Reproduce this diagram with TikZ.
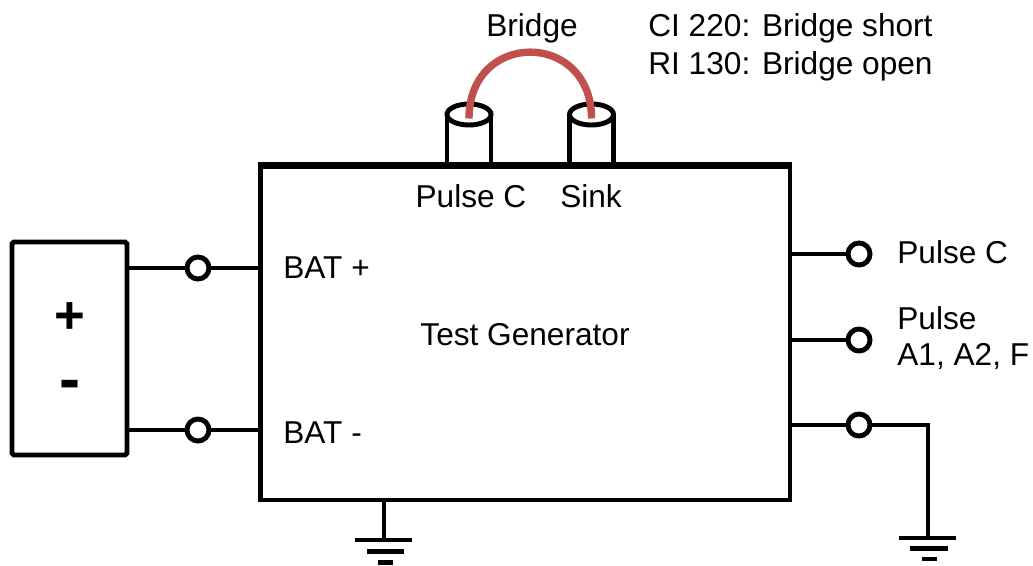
\documentclass[tikz,border=0pt]{standalone}
\usepackage{fontspec}
\setmainfont{Liberation Sans}
\begin{document}
\begin{tikzpicture}[x=0.02cm,y=-0.02cm,
  wire/.style={line width=2.8pt},
  term/.style={circle,draw,line width=2.8pt,fill=white,minimum size=0.44cm,inner sep=0pt},
  lbl/.style={font=\fontsize{18}{21.6}\selectfont,inner sep=0pt},
  bridge/.style={line width=4.2pt,draw={rgb,255:red,192;green,80;blue,77},line cap=butt}]
\useasboundingbox (0,0) rectangle (1033,565);
% battery
\node[draw,line width=2.8pt,rounded corners=1pt,minimum width=2.3cm,minimum height=4.26cm,inner sep=0pt] (batt) at (69.5,348.5) {};
\node[lbl,font=\fontsize{30}{30}\selectfont\bfseries] (plus) at (70,318) {+};
\node[lbl,font=\fontsize{36}{36}\selectfont\bfseries] (minus) at (70,390) {-};
% generator
\node[draw,line width=2.8pt,minimum width=10.6cm,minimum height=6.66cm,inner sep=0pt] (gen) at (525,333.5) {};
\node[lbl] (tg) at (525,335) {Test Generator};
% cylinders
\coordinate (cl) at (469,114.5);
\coordinate (cr) at (591.5,114.5);
\foreach \c in {cl,cr}{
  \fill[white] ([xshift=-0.44cm]\c) rectangle ([xshift=0.44cm]\c |- gen.north);
  \draw[wire] ([xshift=-0.44cm]\c) -- ([xshift=-0.44cm]\c |- gen.north);
  \draw[wire] ([xshift=0.44cm]\c) -- ([xshift=0.44cm]\c |- gen.north);
  \draw[wire,fill=white] (\c) ellipse [x radius=0.44cm,y radius=0.21cm];
}
\draw[wire] (gen.north west) -- (gen.north east);
\draw[bridge] ([yshift=-0.08cm]cl) .. controls (469,30) and (591.5,30) .. ([yshift=-0.08cm]cr);
\node[lbl] (brl) at (532,28) {Bridge};
\node[lbl,anchor=west,align=left] (note) at (648,47) {CI 220: Bridge short\\RI 130: Bridge open};
\node[lbl] (pcl) at (471,196) {Pulse C};
\node[lbl] (snk) at (591,196) {Sink};
% left terminals
\node[term] (tp) at (198,268) {};
\node[term] (tm) at (198,430) {};
\draw[wire] (batt.east |- tp) -- (tp.west);
\draw[wire] (tp.east) -- (gen.west |- tp);
\draw[wire] (batt.east |- tm) -- (tm.west);
\draw[wire] (tm.east) -- (gen.west |- tm);
\node[lbl,anchor=west] (bp) at (283,268) {BAT +};
\node[lbl,anchor=west] (bm) at (283,433) {BAT -};
% right terminals
\node[term] (r1) at (859,254) {};
\node[term] (r2) at (859,340) {};
\node[term] (r3) at (859,425) {};
\draw[wire] (gen.east |- r1) -- (r1.west);
\draw[wire] (gen.east |- r2) -- (r2.west);
\draw[wire] (gen.east |- r3) -- (r3.west);
\node[lbl,anchor=west] (l1) at (897,252) {Pulse C};
\node[lbl,anchor=west,align=left,font=\fontsize{18}{20.5}\selectfont] (l2) at (897,338) {Pulse\\A1, A2, F};
\coordinate (gr) at (928,538);
\draw[wire] (r3.east) -| (gr);
\draw[wire] (899,538) -- (956,538);
\draw[wire] (910,548.5) -- (948,548.5);
\draw[wire] (922,559) -- (937,559);
% bottom ground
\coordinate (gb) at (384,540);
\draw[wire] (gen.south -| gb) -- (gb);
\draw[wire] (355,540) -- (412,540);
\draw[wire] (367,551.5) -- (404,551.5);
\draw[wire] (378,562.5) -- (393,562.5);
\end{tikzpicture}
\end{document}
